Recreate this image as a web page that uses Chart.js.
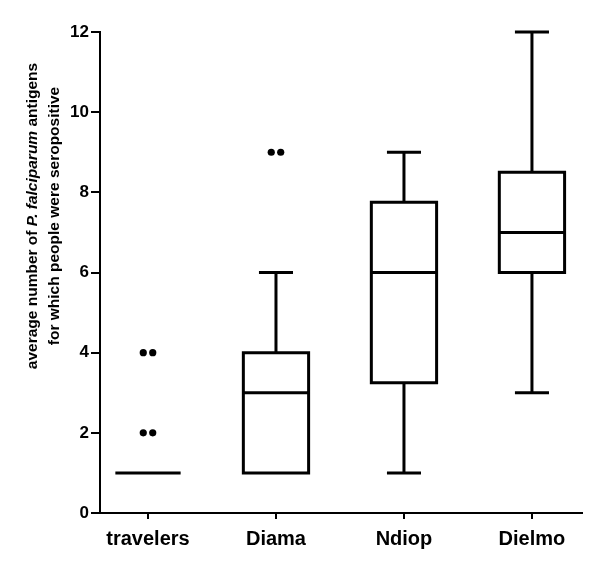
<!DOCTYPE html>
<html>
<head>
<meta charset="utf-8">
<script src="https://cdn.jsdelivr.net/npm/chart.js@4.4.1/dist/chart.umd.min.js"></script>
<style>
  body { margin: 0; background: #fff; }
  canvas { display: block; }
</style>
</head>
<body>
<canvas id="boxChart" width="600" height="573"></canvas>
<script>
// data
const categories = ['travelers', 'Diama', 'Ndiop', 'Dielmo'];
const whiskerLow = [1, 1, 1, 3];
const quart1 = [1, 1, 3.25, 6];
const medians = [1, 3, 6, 7];
const quart3 = [1, 4, 7.75, 8.5];
const whiskerHigh = [1, 6, 9, 12];
const outliers = [[4, 4, 2, 2], [9, 9], [], []];
const yTicks = [0, 2, 4, 6, 8, 10, 12];

const FONT = '"Liberation Sans", Arial, Helvetica, sans-serif';

// outliers as scatter points, equal values get put side by side
const outlierPoints = [];
outliers.forEach(function(vals, i) {
    const seen = {};
    vals.forEach(function(v) {
        const n = vals.filter(u => u === v).length;
        const k = seen[v] = (seen[v] || 0);
        seen[v]++;
        outlierPoints.push({ x: i + (k - (n - 1) / 2) * 0.074, y: v });
    });
});

const boxPlugin = {
    id: 'boxes',
    afterDatasetsDraw(chart) {
        const ctx = chart.ctx;
        const x = chart.scales.x, y = chart.scales.y;
        const half = 0.255, cap = 0.133;
        ctx.save();
        ctx.strokeStyle = '#000';
        ctx.lineWidth = 3;
        ctx.lineCap = 'butt';
        ctx.lineJoin = 'miter';
        categories.forEach(function(c, i) {
            const xl = x.getPixelForValue(i - half), xr = x.getPixelForValue(i + half);
            const xc = x.getPixelForValue(i);
            const yq1 = y.getPixelForValue(quart1[i]), yq3 = y.getPixelForValue(quart3[i]);
            const ymed = y.getPixelForValue(medians[i]);
            const ylo = y.getPixelForValue(whiskerLow[i]), yhi = y.getPixelForValue(whiskerHigh[i]);
            ctx.beginPath();
            if (quart3[i] > quart1[i]) {
                ctx.rect(xl, yq3, xr - xl, yq1 - yq3);
            }
            ctx.moveTo(xl, ymed); ctx.lineTo(xr, ymed);
            if (whiskerHigh[i] > quart3[i]) {
                ctx.moveTo(xc, yq3); ctx.lineTo(xc, yhi);
                ctx.moveTo(x.getPixelForValue(i - cap), yhi); ctx.lineTo(x.getPixelForValue(i + cap), yhi);
            }
            if (whiskerLow[i] < quart1[i]) {
                ctx.moveTo(xc, yq1); ctx.lineTo(xc, ylo);
                ctx.moveTo(x.getPixelForValue(i - cap), ylo); ctx.lineTo(x.getPixelForValue(i + cap), ylo);
            }
            ctx.stroke();
        });
        ctx.restore();
    },
    afterDraw(chart) {
        // y axis title, two lines, with the italic species name
        const ctx = chart.ctx;
        const lines = [
            [['average number of ', 'bold'], ['P. falciparum', 'italic bold'], [' antigens', 'bold']],
            [['for which people were seropositive', 'bold']]
        ];
        const baselines = [37, 59];
        const cy = 216;
        ctx.save();
        ctx.fillStyle = '#000';
        ctx.textBaseline = 'alphabetic';
        ctx.textAlign = 'left';
        lines.forEach(function(parts, li) {
            let total = 0;
            parts.forEach(function(p) {
                ctx.font = p[1] + ' 15.5px ' + FONT;
                total += ctx.measureText(p[0]).width;
            });
            ctx.save();
            ctx.translate(baselines[li], cy);
            ctx.rotate(-Math.PI / 2);
            let pos = -total / 2;
            parts.forEach(function(p) {
                ctx.font = p[1] + ' 15.5px ' + FONT;
                ctx.fillText(p[0], pos, 0);
                pos += ctx.measureText(p[0]).width;
            });
            ctx.restore();
        });
        ctx.restore();
    }
};

const ctx = document.getElementById('boxChart').getContext('2d');
new Chart(ctx, {
    type: 'scatter',
    data: {
        datasets: [{
            data: outlierPoints,
            backgroundColor: '#000',
            borderWidth: 0,
            pointRadius: 3.6,
            pointHoverRadius: 3.6
        }]
    },
    options: {
        responsive: false,
        animation: false,
        layout: { padding: { top: 32, right: 18, left: 0, bottom: 0 } },
        plugins: {
            legend: { display: false },
            tooltip: { enabled: false }
        },
        scales: {
            x: {
                type: 'linear',
                min: -0.375,
                max: 3.391,
                afterBuildTicks: function(scale) {
                    scale.ticks = categories.map((c, i) => ({ value: i }));
                },
                afterFit: function(scale) { scale.height = 60; },
                ticks: {
                    autoSkip: false,
                    maxRotation: 0,
                    color: '#000',
                    padding: 8,
                    font: { family: FONT, size: 20, weight: 'bold' },
                    callback: function(v) { return categories[v]; }
                },
                grid: {
                    drawOnChartArea: false,
                    drawTicks: true,
                    tickLength: 6,
                    color: '#000',
                    lineWidth: 2
                },
                border: { display: true, color: '#000', width: 2 }
            },
            y: {
                min: 0,
                max: 12,
                afterBuildTicks: function(scale) {
                    scale.ticks = yTicks.map(v => ({ value: v }));
                },
                afterFit: function(scale) { scale.width = 100; },
                ticks: {
                    color: '#000',
                    padding: 2,
                    font: { family: FONT, size: 17, weight: 'bold' }
                },
                grid: {
                    drawOnChartArea: false,
                    drawTicks: true,
                    tickLength: 9,
                    color: '#000',
                    lineWidth: 2
                },
                border: { display: true, color: '#000', width: 2 }
            }
        }
    },
    plugins: [boxPlugin]
});
</script>
</body>
</html>
